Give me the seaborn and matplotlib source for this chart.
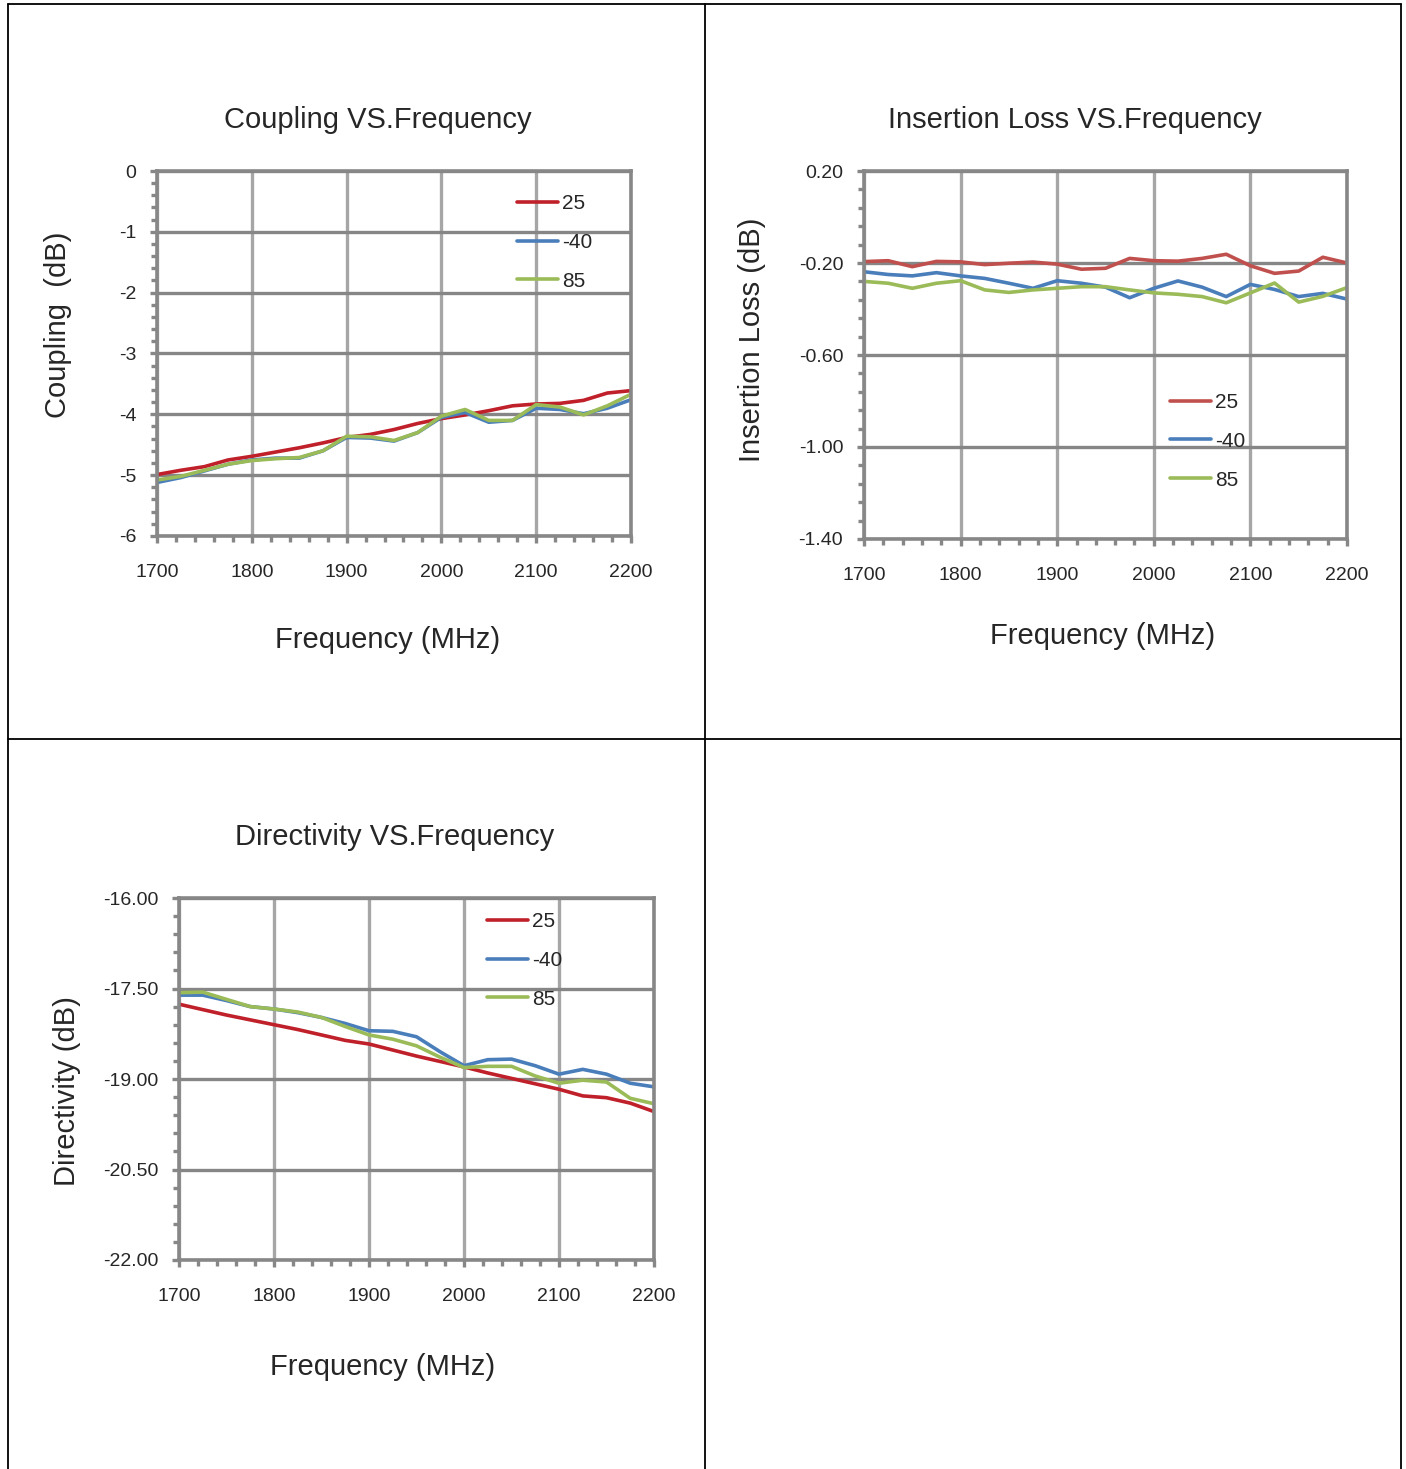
import numpy as np
import pandas as pd
import matplotlib
matplotlib.use('Agg')
import matplotlib.pyplot as plt
from matplotlib.lines import Line2D
from matplotlib.ticker import FixedLocator, FormatStrFormatter
import seaborn as sns

# 频率点 (MHz)
freq = [1700, 1725, 1750, 1775, 1800, 1825, 1850, 1875, 1900, 1925, 1950,
        1975, 2000, 2025, 2050, 2075, 2100, 2125, 2150, 2175, 2200]
temps = ['25', '-40', '85']

# Coupling (dB)
coup_25 = [-4.99, -4.92, -4.86, -4.75, -4.69, -4.62, -4.55, -4.47, -4.38, -4.33, -4.25,
           -4.15, -4.07, -4.01, -3.94, -3.86, -3.83, -3.82, -3.77, -3.65, -3.61]
coup_m40 = [-5.12, -5.04, -4.93, -4.82, -4.75, -4.72, -4.72, -4.60, -4.38, -4.39, -4.44,
            -4.30, -4.05, -3.97, -4.13, -4.10, -3.90, -3.92, -3.99, -3.90, -3.76]
coup_85 = [-5.08, -5.02, -4.92, -4.82, -4.76, -4.73, -4.71, -4.60, -4.36, -4.37, -4.43,
           -4.30, -4.03, -3.92, -4.10, -4.10, -3.84, -3.88, -4.01, -3.86, -3.67]

# Insertion Loss (dB)
il_25 = [-0.194, -0.190, -0.216, -0.193, -0.195, -0.207, -0.201, -0.196, -0.205, -0.227, -0.223,
         -0.180, -0.190, -0.192, -0.180, -0.162, -0.212, -0.245, -0.235, -0.175, -0.200]
il_m40 = [-0.238, -0.250, -0.256, -0.242, -0.256, -0.267, -0.288, -0.310, -0.277, -0.288, -0.305,
          -0.351, -0.310, -0.278, -0.305, -0.346, -0.293, -0.315, -0.346, -0.332, -0.357]
il_85 = [-0.280, -0.288, -0.310, -0.288, -0.277, -0.317, -0.328, -0.317, -0.310, -0.303, -0.303,
         -0.317, -0.330, -0.336, -0.346, -0.373, -0.330, -0.287, -0.370, -0.345, -0.307]

# Directivity (dB)
dir_25 = [-17.76, -17.85, -17.94, -18.02, -18.10, -18.18, -18.27, -18.36, -18.42, -18.52, -18.62,
          -18.71, -18.80, -18.90, -18.99, -19.08, -19.17, -19.28, -19.31, -19.40, -19.54]
dir_m40 = [-17.61, -17.61, -17.70, -17.80, -17.84, -17.90, -17.98, -18.08, -18.20, -18.21, -18.30,
           -18.55, -18.78, -18.68, -18.67, -18.78, -18.92, -18.84, -18.92, -19.07, -19.13]
dir_85 = [-17.57, -17.56, -17.68, -17.80, -17.84, -17.89, -17.98, -18.13, -18.27, -18.34, -18.45,
          -18.64, -18.81, -18.79, -18.79, -18.95, -19.07, -19.02, -19.05, -19.32, -19.41]


def make_df(s25, sm40, s85):
    # 转成长表，方便seaborn按温度分色
    rows = []
    for name, vals in zip(temps, [s25, sm40, s85]):
        for f, v in zip(freq, vals):
            rows.append({'freq': f, 'val': v, 'temp': name})
    return pd.DataFrame(rows)


sns.set_style('white')
plt.rcParams['font.family'] = ['Liberation Sans', 'DejaVu Sans']
tick_font = ['Liberation Sans Narrow', 'Liberation Sans', 'DejaVu Sans']

spine_c = '#878787'
hgrid_c = '#868686'
vgrid_c = '#a6a6a6'

fig = plt.figure(figsize=(14.06, 14.69), dpi=100)
W, H = 1406, 1469


def px_axes(l, t, r, b):
    return fig.add_axes([l / W, 1 - b / H, (r - l) / W, (b - t) / H])


def style_axes(ax, ylim, ymaj, ymin, yfmt, title, ylabel, palette,
               leg_xy, title_xy, xlab_xy, ylab_xy):
    ax.set_xlim(1700, 2200)
    ax.set_ylim(*ylim)
    n_maj = int(round((ylim[1] - ylim[0]) / ymaj))
    n_min = int(round((ylim[1] - ylim[0]) / ymin))
    ax.xaxis.set_major_locator(FixedLocator(np.arange(1700, 2201, 100)))
    ax.xaxis.set_minor_locator(FixedLocator(np.arange(1700, 2201, 20)))
    ax.yaxis.set_major_locator(FixedLocator(ylim[0] + ymaj * np.arange(n_maj + 1)))
    ax.yaxis.set_minor_locator(FixedLocator(ylim[0] + ymin * np.arange(n_min + 1)))
    ax.yaxis.set_major_formatter(FormatStrFormatter(yfmt))
    ax.xaxis.grid(True, color=vgrid_c, lw=2.4)
    ax.yaxis.grid(True, color=hgrid_c, lw=2.4)
    ax.set_axisbelow(True)
    for sp in ax.spines.values():
        sp.set_color(spine_c)
        sp.set_linewidth(2.6)
    ax.tick_params(axis='both', which='major', direction='out', length=5, width=2.4,
                   color=spine_c, labelsize=14, bottom=True, left=True)
    ax.tick_params(axis='x', which='major', pad=15)
    ax.tick_params(axis='y', which='major', pad=10)
    ax.tick_params(axis='both', which='minor', direction='out', length=4, width=2.4,
                   color=spine_c, bottom=True, left=True)
    for lab in ax.get_xticklabels() + ax.get_yticklabels():
        lab.set_family(tick_font)
    ax.set_xlabel('')
    ax.set_ylabel('')
    fig.text(title_xy[0] / W, 1 - title_xy[1] / H, title, ha='center', va='center',
             fontsize=21)
    fig.text(xlab_xy[0] / W, 1 - xlab_xy[1] / H, 'Frequency (MHz)', ha='center',
             va='center', fontsize=21)
    fig.text(ylab_xy[0] / W, 1 - ylab_xy[1] / H, ylabel, ha='center', va='center',
             rotation=90, fontsize=21)
    # 图例：无边框，手动放置
    handles = [Line2D([0], [0], color=c, lw=2.6) for c in palette]
    leg = ax.legend(handles, temps, loc='upper left',
                    bbox_to_anchor=(leg_xy[0] / W, 1 - leg_xy[1] / H),
                    bbox_transform=fig.transFigure, frameon=False,
                    handlelength=1.95, handletextpad=0.2, labelspacing=0.95,
                    borderaxespad=0, borderpad=0,
                    prop={'family': tick_font, 'size': 15})
    return leg


# 1. Coupling
ax1 = px_axes(157, 171, 631, 536)
pal1 = ['#c0202a', '#4a7ebb', '#9bbb59']
sns.lineplot(data=make_df(coup_25, coup_m40, coup_85), x='freq', y='val', hue='temp',
             hue_order=temps, palette=pal1, lw=2.6, ax=ax1, legend=False)
style_axes(ax1, (-6, 0), 1, 0.2, '%g', 'Coupling VS.Frequency', 'Coupling  (dB)',
           pal1, (517, 194), (378, 120), (388, 640), (58, 325))

# 2. Insertion Loss
ax2 = px_axes(864, 171, 1347, 539)
pal2 = ['#c0504d', '#4a7ebb', '#9bbb59']
sns.lineplot(data=make_df(il_25, il_m40, il_85), x='freq', y='val', hue='temp',
             hue_order=temps, palette=pal2, lw=2.6, ax=ax2, legend=False)
style_axes(ax2, (-1.4, 0.2), 0.4, 0.08, '%.2f', 'Insertion Loss VS.Frequency',
           'Insertion Loss (dB)', pal2, (1170, 393), (1075, 120), (1103, 636), (752, 340))

# 3. Directivity
ax3 = px_axes(179, 898, 654, 1260)
sns.lineplot(data=make_df(dir_25, dir_m40, dir_85), x='freq', y='val', hue='temp',
             hue_order=temps, palette=pal1, lw=2.6, ax=ax3, legend=False)
style_axes(ax3, (-22, -16), 1.5, 0.3, '%.2f', 'Directivity VS.Frequency',
           'Directivity (dB)', pal1, (487, 912), (395, 837), (383, 1367), (67, 1091))

# 表格边框
for x in (8, 705, 1401):
    fig.add_artist(Line2D([x / W, x / W], [0, 1 - 4 / H], color='black', lw=1.3))
for y in (4, 739):
    fig.add_artist(Line2D([8 / W, 1401 / W], [1 - y / H, 1 - y / H], color='black', lw=1.3))

fig.savefig('out.png', dpi=100, facecolor='white')
